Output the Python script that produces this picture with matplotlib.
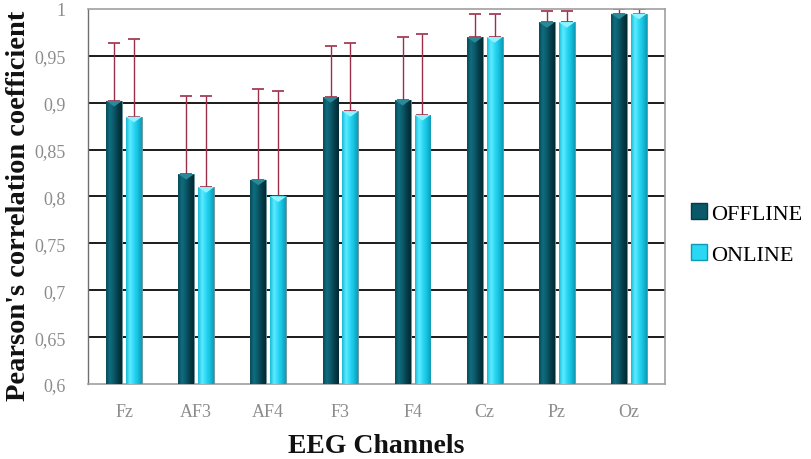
import numpy as np
import matplotlib
matplotlib.use("Agg")
import matplotlib.pyplot as plt
from matplotlib.colors import LinearSegmentedColormap
from matplotlib.patches import Patch

channels = ["Fz", "AF3", "AF4", "F3", "F4", "Cz", "Pz", "Oz"]
offline = [0.902, 0.824, 0.818, 0.906, 0.903, 0.970, 0.986, 0.995]
online = [0.885, 0.810, 0.800, 0.891, 0.887, 0.970, 0.986, 0.995]
offline_err = [0.062, 0.083, 0.097, 0.055, 0.067, 0.025, 0.012, 0.005]
online_err = [0.083, 0.097, 0.113, 0.073, 0.086, 0.025, 0.012, 0.005]

plt.rcParams["font.family"] = ["Liberation Serif", "DejaVu Serif"]

fig = plt.figure(figsize=(8.11, 4.60), dpi=100)
ax = fig.add_axes([88 / 811, 1 - 385 / 460, 577 / 811, 375 / 460])

x = np.arange(len(channels))
w = 0.22
gap = 0.055

dark_cmap = LinearSegmentedColormap.from_list(
    "dark", ["#0a4a58", "#0f6f80", "#0b5868", "#063c48", "#022a33"])
light_cmap = LinearSegmentedColormap.from_list(
    "light", ["#17b8d6", "#5fecff", "#2ad8f4", "#18c0e0", "#0e9ab5"])
grad = np.linspace(0, 1, 64).reshape(1, -1)


def shaded_bars(xpos, vals, base, cmap, top_col):
    bars = ax.bar(xpos, np.array(vals) - 0.6, w, bottom=0.6, color=base,
                  edgecolor="#6a8f96", linewidth=0.6, zorder=3)
    for b in bars:
        x0, y0 = b.get_x(), b.get_y()
        x1, y1 = x0 + b.get_width(), y0 + b.get_height()
        im = ax.imshow(grad, cmap=cmap, extent=[x0, x1, y0, y1],
                       aspect="auto", zorder=3.5, interpolation="bicubic")
        im.set_clip_path(b)
        # bevelled top of the bar
        ax.fill([x0, x1, (x0 + x1) / 2], [y1, y1, y1 - 0.006],
                color=top_col, zorder=3.6, lw=0)
    return bars


shaded_bars(x - w / 2 - gap / 2, offline, "#0b5868", dark_cmap, "#2a8a98")
shaded_bars(x + w / 2 + gap / 2, online, "#2ad8f4", light_cmap, "#8ff4ff")

err_col = "#9b2e48"
ax.errorbar(x - w / 2 - gap / 2, offline,
            yerr=[np.zeros(len(offline)), offline_err], fmt="none",
            ecolor=err_col, elinewidth=1.0, capsize=4, capthick=1.2, zorder=2.5)
ax.errorbar(x + w / 2 + gap / 2, online,
            yerr=[np.zeros(len(online)), online_err], fmt="none",
            ecolor=err_col, elinewidth=1.0, capsize=4, capthick=1.2, zorder=2.5)

ax.set_xlim(-0.5, len(channels) - 0.5)
ax.set_ylim(0.6, 1.0)
yt = np.round(np.arange(0.6, 1.0001, 0.05), 2)
ax.set_yticks(yt)
ax.set_yticklabels([("%g" % v).replace(".", ",") for v in yt])
ax.set_xticks(x)
ax.set_xticklabels(channels)
ax.tick_params(axis="both", length=0, colors="#8c8c8c", labelsize=13)
ax.tick_params(axis="y", pad=16)
ax.tick_params(axis="x", pad=14)

for v in yt[1:-1]:
    ax.axhline(v, color="#1a1a1a", lw=1.4, zorder=1)

for s in ["top", "right", "bottom"]:
    ax.spines[s].set_color("#a0a0a0")
    ax.spines[s].set_linewidth(1.2)
ax.spines["left"].set_color("#707070")
ax.spines["left"].set_linewidth(1.0)

ax.set_ylabel("Pearson's correlation coefficient", fontsize=20.5,
              fontweight="bold", color="#111111")
ax.yaxis.set_label_coords(-0.098, 0.477)
ax.set_xlabel("EEG Channels", fontsize=20, fontweight="bold",
              color="#111111", labelpad=9)

handles = [Patch(facecolor="#0b5868", edgecolor="#063c48", label="OFFLINE"),
           Patch(facecolor="#2ad8f4", edgecolor="#0e9ab5", label="ONLINE")]
fig.legend(handles=handles, loc="center left",
           bbox_to_anchor=(691 / 811, 1 - 235 / 460), frameon=False,
           borderaxespad=0, borderpad=0,
           fontsize=16, handlelength=0.7, handleheight=0.7,
           handletextpad=0.2, labelspacing=0.9)

fig.savefig("out.png", dpi=100)
